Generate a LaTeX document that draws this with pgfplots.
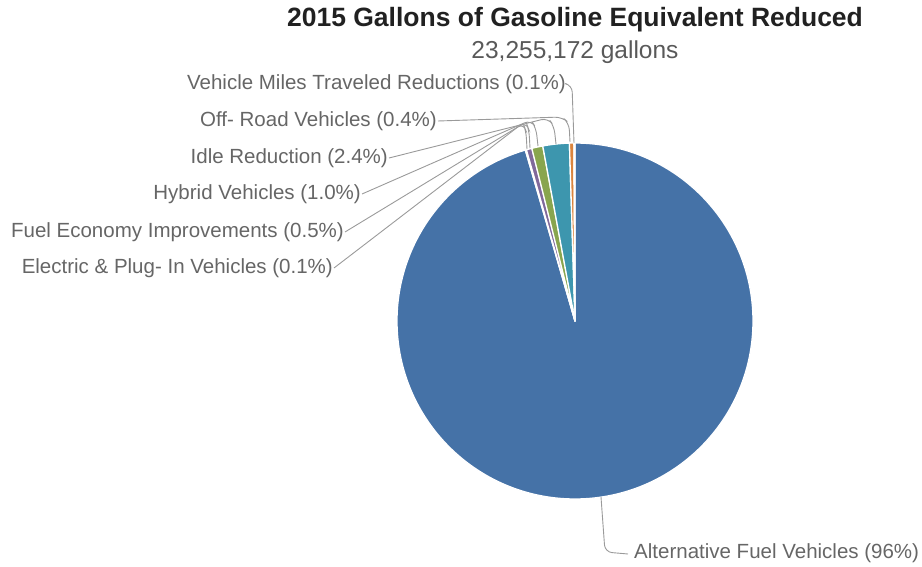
\documentclass[border=0pt]{standalone}
\usepackage{pgfplots}
\pgfplotsset{compat=1.18}
\usepackage{fontspec}
\setmainfont{Liberation Sans}
\definecolor{cAFV}{HTML}{4572A7}
\definecolor{cEL}{HTML}{AA4643}
\definecolor{cFE}{HTML}{80699B}
\definecolor{cHY}{HTML}{89A54E}
\definecolor{cID}{HTML}{3D96AE}
\definecolor{cOR}{HTML}{DB843D}
\definecolor{cVM}{HTML}{92A8CD}
\definecolor{lbl}{HTML}{666666}
\definecolor{lead}{HTML}{9A9A9A}
\begin{document}
\begin{tikzpicture}
% shares in percent (clockwise from top)
\def\vA{95.5}% Alternative Fuel Vehicles
\def\vB{0.1}% Electric & Plug-In Vehicles
\def\vC{0.5}% Fuel Economy Improvements
\def\vD{1.0}% Hybrid Vehicles
\def\vE{2.4}% Idle Reduction
\def\vF{0.4}% Off-Road Vehicles
\def\vG{0.1}% Vehicle Miles Traveled Reductions
\pgfmathsetmacro\aA{90}
\pgfmathsetmacro\aB{\aA-3.6*\vA}
\pgfmathsetmacro\aC{\aB-3.6*\vB}
\pgfmathsetmacro\aD{\aC-3.6*\vC}
\pgfmathsetmacro\aE{\aD-3.6*\vD}
\pgfmathsetmacro\aF{\aE-3.6*\vE}
\pgfmathsetmacro\aG{\aF-3.6*\vF}
\pgfmathsetmacro\aH{\aG-3.6*\vG}
\begin{axis}[hide axis, scale only axis, width=922pt, height=566pt,
  xmin=0, xmax=922, ymin=0, ymax=566, clip=false]
\path (axis cs:0,0) rectangle (axis cs:922,566);
\tikzset{slice/.style={draw=white, line width=1.3pt, line join=round}}
\fill[cAFV, slice] (axis cs:575,245) -- ++(\aA:178pt) arc[start angle=\aA, end angle=\aB, radius=178pt] -- cycle;
\fill[cEL, slice] (axis cs:575,245) -- ++(\aB:178pt) arc[start angle=\aB, end angle=\aC, radius=178pt] -- cycle;
\fill[cFE, slice] (axis cs:575,245) -- ++(\aC:178pt) arc[start angle=\aC, end angle=\aD, radius=178pt] -- cycle;
\fill[cHY, slice] (axis cs:575,245) -- ++(\aD:178pt) arc[start angle=\aD, end angle=\aE, radius=178pt] -- cycle;
\fill[cID, slice] (axis cs:575,245) -- ++(\aE:178pt) arc[start angle=\aE, end angle=\aF, radius=178pt] -- cycle;
\fill[cOR, slice] (axis cs:575,245) -- ++(\aF:178pt) arc[start angle=\aF, end angle=\aG, radius=178pt] -- cycle;
\fill[cVM, slice] (axis cs:575,245) -- ++(\aG:178pt) arc[start angle=\aG, end angle=\aH, radius=178pt] -- cycle;
% title
\node[font=\fontsize{26.5}{30}\bfseries\selectfont, text=black!87, inner sep=0pt] at (axis cs:575,546) {2015 Gallons of Gasoline Equivalent Reduced};
\node[font=\fontsize{24.5}{28}\selectfont, text=black!65, inner sep=0pt] at (axis cs:575,514) {23,255,172 gallons};
% leader lines
\tikzset{leader/.style={draw=lead, line width=0.9pt, rounded corners=7pt}}
\draw[leader] (axis cs:567,482) -- (axis cs:572,481) -- (axis cs:574,423);
\draw[leader] (axis cs:438,445) -- (axis cs:562,449) -- (axis cs:569,443) -- (axis cs:570,424);
\draw[leader] (axis cs:389,408) -- (axis cs:548,448) -- (axis cs:554,440) -- (axis cs:556,422);
\draw[leader] (axis cs:362,372) -- (axis cs:531,446) -- (axis cs:536,438) -- (axis cs:538,420);
\draw[leader] (axis cs:345,334) -- (axis cs:526,444) -- (axis cs:529,436) -- (axis cs:530,418);
\draw[leader] (axis cs:334,298) -- (axis cs:523,443) -- (axis cs:526,435) -- (axis cs:527,417);
\draw[leader] (axis cs:601,69) -- (axis cs:605,14) -- (axis cs:628,12);
% labels
\tikzset{lab/.style={font=\fontsize{20.5}{24}\selectfont, text=lbl, inner sep=1pt}}
\node[lab, anchor=east] at (axis cs:567,482) {Vehicle Miles Traveled Reductions (0.1\%)};
\node[lab, anchor=east] at (axis cs:438,445) {Off- Road Vehicles (0.4\%)};
\node[lab, anchor=east] at (axis cs:389,408) {Idle Reduction (2.4\%)};
\node[lab, anchor=east] at (axis cs:362,372) {Hybrid Vehicles (1.0\%)};
\node[lab, anchor=east] at (axis cs:345,334) {Fuel Economy Improvements (0.5\%)};
\node[lab, anchor=east] at (axis cs:334,298) {Electric \& Plug- In Vehicles (0.1\%)};
\node[lab, anchor=west] at (axis cs:633,13) {Alternative Fuel Vehicles (96\%)};
\end{axis}
\end{tikzpicture}
\end{document}
